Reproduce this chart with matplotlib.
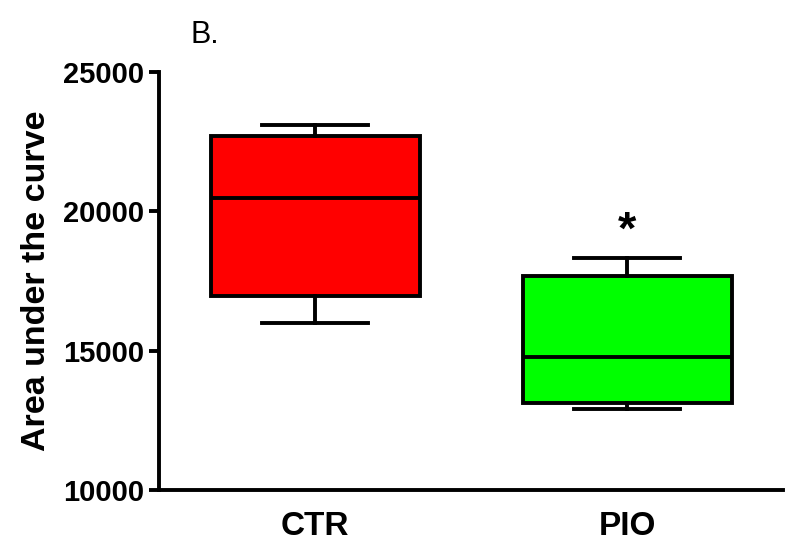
import matplotlib
matplotlib.use("Agg")
import matplotlib.pyplot as plt

plt.rcParams['font.family'] = ['Liberation Sans', 'DejaVu Sans']

categories = ["CTR", "PIO"]
whisker_low = [15990, 12910]
q1 = [16960, 13120]
median = [20480, 14770]
q3 = [22700, 17680]
whisker_high = [23100, 18330]
colors = ["#ff0000", "#00ff00"]
yticks = [10000, 15000, 20000, 25000]

fig = plt.figure(figsize=(8, 5.51), dpi=100)
ax = fig.add_axes([0.199, 0.111, 0.78, 0.758])

stats = []
for i, c in enumerate(categories):
    stats.append(dict(label=c, whislo=whisker_low[i], q1=q1[i], med=median[i],
                      q3=q3[i], whishi=whisker_high[i], fliers=[]))

lw = 2.8
bp = ax.bxp(stats, positions=[1, 2], widths=0.67, patch_artist=True, showfliers=False,
            boxprops=dict(linewidth=lw, edgecolor='black'),
            medianprops=dict(color='black', linewidth=lw),
            whiskerprops=dict(color='black', linewidth=lw),
            capprops=dict(color='black', linewidth=lw),
            capwidths=0.34)
for patch, col in zip(bp['boxes'], colors):
    patch.set_facecolor(col)

ax.text(2, 18330 + 950, "*", ha='center', va='center', fontsize=34, fontweight='bold')

ax.set_xlim(0.5, 2.5)
ax.set_ylim(10000, 25000)
ax.set_yticks(yticks)
ax.set_yticklabels([str(t) for t in yticks], fontsize=21, fontweight='bold')
ax.set_xticks([1, 2])
ax.set_xticklabels(categories, fontsize=24, fontweight='bold')
ax.tick_params(axis='x', length=0, pad=15)
ax.tick_params(axis='y', length=7, width=lw, pad=4)
ax.spines['top'].set_visible(False)
ax.spines['right'].set_visible(False)
ax.spines['left'].set_linewidth(lw)
ax.spines['bottom'].set_linewidth(lw)
ax.set_ylabel("Area under the curve", fontsize=24.5, fontweight='bold', labelpad=8)

fig.text(0.238, 0.936, "B.", fontsize=22, ha='left', va='center')

fig.savefig("out.png", dpi=100)
